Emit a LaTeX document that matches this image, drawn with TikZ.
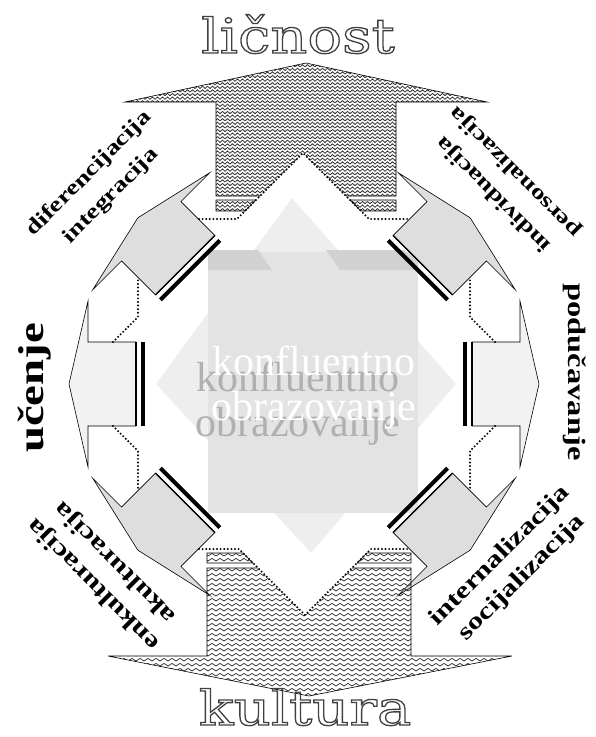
\documentclass[tikz,border=0pt]{standalone}
\usepackage{fontspec}
\usetikzlibrary{patterns}
\setmainfont{Liberation Serif}
\newfontfamily\titlefont{DejaVu Serif}[FakeStretch=1.2]
\newfontfamily\wordfont{Liberation Serif}[FakeStretch=1.3]
\newcommand\hollow[1]{\special{pdf:literal direct 1 Tr 1.3 w}#1\special{pdf:literal direct 0 Tr 0.4 w}}

\pgfdeclarepatternformonly{weave}{\pgfqpoint{-1pt}{-1pt}}{\pgfqpoint{6pt}{5pt}}{\pgfqpoint{5pt}{3.6pt}}{%
  \pgfsetlinewidth{0.8pt}%
  \pgfpathmoveto{\pgfqpoint{0pt}{0.5pt}}%
  \pgfpathlineto{\pgfqpoint{2.5pt}{2.8pt}}%
  \pgfpathlineto{\pgfqpoint{5pt}{0.5pt}}%
  \pgfusepath{stroke}}
\pgfdeclarepatternformonly{waves}{\pgfqpoint{-1pt}{-1pt}}{\pgfqpoint{9pt}{6pt}}{\pgfqpoint{8pt}{5pt}}{%
  \pgfsetlinewidth{0.75pt}%
  \pgfpathmoveto{\pgfqpoint{0pt}{1pt}}%
  \pgfpathcurveto{\pgfqpoint{1.5pt}{1pt}}{\pgfqpoint{2.5pt}{3.6pt}}{\pgfqpoint{4pt}{3.6pt}}%
  \pgfpathcurveto{\pgfqpoint{5.5pt}{3.6pt}}{\pgfqpoint{6.5pt}{1pt}}{\pgfqpoint{8pt}{1pt}}%
  \pgfusepath{stroke}}

\tikzset{
  rim/.style={draw=black, line width=0.6pt, line join=miter},
  dotrow/.style={line width=2.2pt, dash pattern=on 0pt off 3.6pt, line cap=round},
  sideword/.style={font=\wordfont\bfseries\fontsize{#1}{#1}\selectfont, inner sep=0pt},
  tagword/.style={font=\wordfont\bfseries\fontsize{#1}{31}\selectfont, align=center, inner sep=0pt},
  titleword/.style={font=\titlefont\fontsize{48}{52}\selectfont, text=black!75, inner sep=0pt, anchor=base},
  startext/.style={font=\fontsize{42}{45}\selectfont, align=center, inner sep=0pt}
}

\begin{document}
\begin{tikzpicture}[x=1pt,y=-1pt]
\useasboundingbox (0,0) rectangle (595,737);
\fill[gray!13] (292,198) -- (456,384) -- (311,553) -- (156,384) -- cycle;
\fill[gray!22] (208,252) rectangle (418,513);
\fill[gray!36] (208,250) -- (258,250) -- (272,270) -- (208,270) -- cycle;
\fill[gray!36] (326,250) -- (404,250) -- (418,262) -- (418,270) -- (340,270) -- cycle;
\node[startext, text=gray!62] (shade) at (298,404) {konfluentno\\obrazovanje};
\node[startext, text=white] (confluent) at (314,388) {konfluentno\\obrazovanje};

\foreach \a/\g in {0/10,180/10,45/26,135/26,225/26,315/26}{
  \begin{scope}[shift={(304,384)},rotate=\a]
    \filldraw[rim, fill=gray!\g] (168,-42) -- (216,-42) -- (216,-83) -- (235,0) -- (216,83) -- (216,42) -- (168,42) -- cycle;
    \draw[line width=1.3pt] (168,-42) -- (168,42);
    \draw[line width=4pt] (161,-42) -- (161,42);
  \end{scope}
}

\path[pattern=weave, pattern color=black!80] (125,102) -- (306,63) -- (487,102) -- (396,102) -- (396,196) -- (346,196) -- (303,153) -- (260,196) -- (216,196) -- (216,102) -- cycle;
\draw[rim] (346,196) -- (396,196) -- (396,102) -- (487,102) -- (306,63) -- (125,102) -- (216,102) -- (216,196) -- (260,196);
\filldraw[rim, pattern=weave, pattern color=black!80] (216,200) -- (256,200) -- (245,211) -- (216,211) -- cycle;
\filldraw[rim, pattern=weave, pattern color=black!80] (350,200) -- (396,200) -- (396,211) -- (361,211) -- cycle;

\path[pattern=waves, pattern color=black!80] (207,568) -- (258,568) -- (305,615) -- (352,568) -- (411,568) -- (411,656) -- (512,656) -- (309,696) -- (108,656) -- (207,656) -- cycle;
\draw[rim] (258,568) -- (207,568) -- (207,656) -- (108,656) -- (309,696) -- (512,656) -- (411,656) -- (411,568) -- (352,568);
\filldraw[rim, pattern=waves, pattern color=black!80] (207,553) -- (243,553) -- (253,563) -- (207,563) -- cycle;
\filldraw[rim, pattern=waves, pattern color=black!80] (367,553) -- (411,553) -- (411,563) -- (357,563) -- cycle;

\draw[dotrow] (199,219) -- (237,219) -- (303,153) -- (369,219) -- (409,219);
\draw[dotrow] (199,549) -- (239,549) -- (305,615) -- (371,549) -- (409,549);
\draw[dotrow] (113,342) -- (138,317) -- (138,277);
\draw[dotrow] (113,426) -- (138,451) -- (138,491);
\draw[dotrow] (495,342) -- (470,317) -- (470,277);
\draw[dotrow] (495,426) -- (470,451) -- (470,491);

\node[sideword=36, rotate=90] (ucenje) at (35,388) {učenje};
\node[sideword=25, rotate=-90] (poducavanje) at (575,372) {podučavanje};
\node[tagword=21, rotate=45] (difint) at (100,185) {diferencijacija\\integracija};
\node[tagword=21, rotate=135] (indper) at (505,183) {individuacija\\personalizacija};
\node[tagword=23.5, rotate=135] (enkak) at (105,573) {enkulturacija\\akulturacija};
\node[tagword=23.5, rotate=45] (intsoc) at (511,567) {internalizacija\\socijalizacija};
\node[titleword] (licnost) at (298,53) {\hollow{ličnost}};
\node[titleword] (kultura) at (305,725) {\hollow{kultura}};
\end{tikzpicture}
\end{document}
